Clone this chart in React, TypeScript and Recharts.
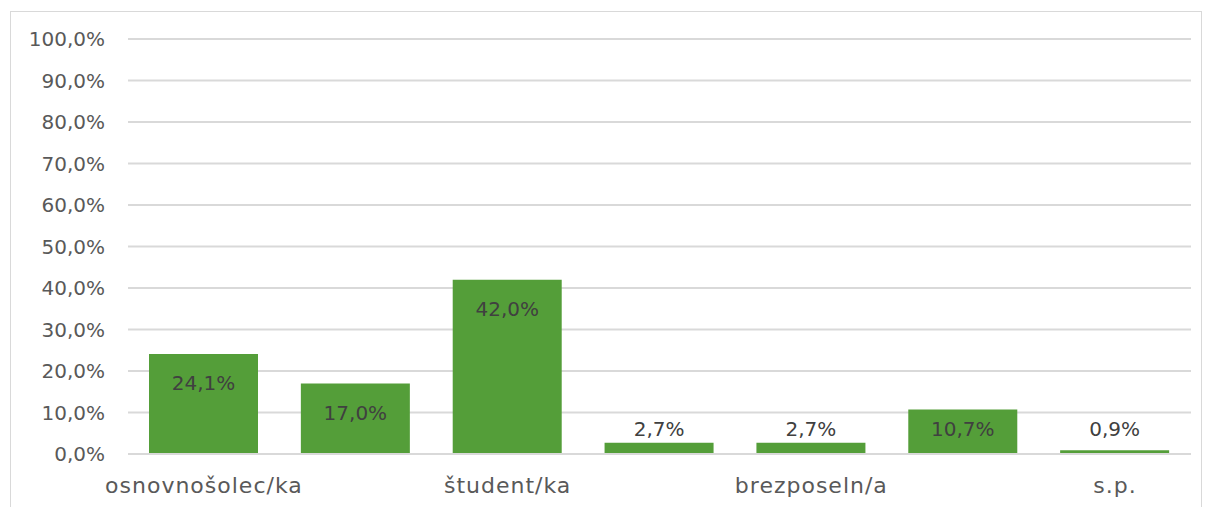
import { BarChart, Bar, XAxis, YAxis, CartesianGrid, LabelList } from 'recharts';

// Deleži po statusu anketirancev
const categories = ['osnovnošolec/ka', 'dijak/inja', 'študent/ka', 'zaposlen/a', 'brezposeln/a', 'upokojenec/ka', 's.p.'];
const shares = [24.1, 17.0, 42.0, 2.7, 2.7, 10.7, 0.9];
const yTicks = [0, 10, 20, 30, 40, 50, 60, 70, 80, 90, 100];

const GREEN = '#549E39';
const GRID = '#d9d9d9';
const FONT = '"DejaVu Sans", sans-serif';

const data = categories.map((name, i) => ({ name, value: shares[i] }));

const pct = (v: number) => `${v.toFixed(1).replace('.', ',')}%`;

// Excel-style "inside end" label, pushed up when the bar is too short
function BarLabel(props: any) {
  const { x, y, width, value } = props;
  const cy = Math.min(y + 29, 429);
  return (
    <text
      x={x + width / 2}
      y={cy}
      dy="0.36em"
      textAnchor="middle"
      fill="#404040"
      fontSize={20}
      fontFamily={FONT}
    >
      {pct(value)}
    </text>
  );
}

export default function App() {
  return (
    <div style={{ position: 'absolute', left: 0, top: 0, width: 1209, height: 507, overflow: 'hidden', background: '#fff' }}>
      <div
        style={{
          position: 'absolute',
          left: 10,
          top: 11,
          width: 1192,
          height: 520,
          border: `1px solid ${GRID}`,
          boxSizing: 'border-box',
        }}
      />
      <div style={{ position: 'absolute', left: 0, top: 0 }}>
        <BarChart
          width={1209}
          height={507}
          data={data}
          margin={{ top: 39, right: 18, bottom: 0, left: 28 }}
          barSize={109}
        >
          <CartesianGrid vertical={false} stroke={GRID} strokeWidth={2} />
          <XAxis
            dataKey="name"
            interval={1}
            height={53}
            axisLine={{ stroke: GRID, strokeWidth: 2 }}
            tickLine={false}
            tickSize={0}
            tickMargin={23}
            tick={{ fill: '#595959', fontSize: 22, fontFamily: FONT, letterSpacing: 1 }}
          />
          <YAxis
            domain={[0, 100]}
            ticks={yTicks}
            interval={0}
            width={100}
            axisLine={false}
            tickLine={false}
            tickSize={0}
            tickMargin={23}
            tickFormatter={pct}
            tick={{ fill: '#595959', fontSize: 20, fontFamily: FONT }}
          />
          <Bar dataKey="value" fill={GREEN} isAnimationActive={false}>
            <LabelList dataKey="value" content={BarLabel} />
          </Bar>
        </BarChart>
      </div>
    </div>
  );
}
